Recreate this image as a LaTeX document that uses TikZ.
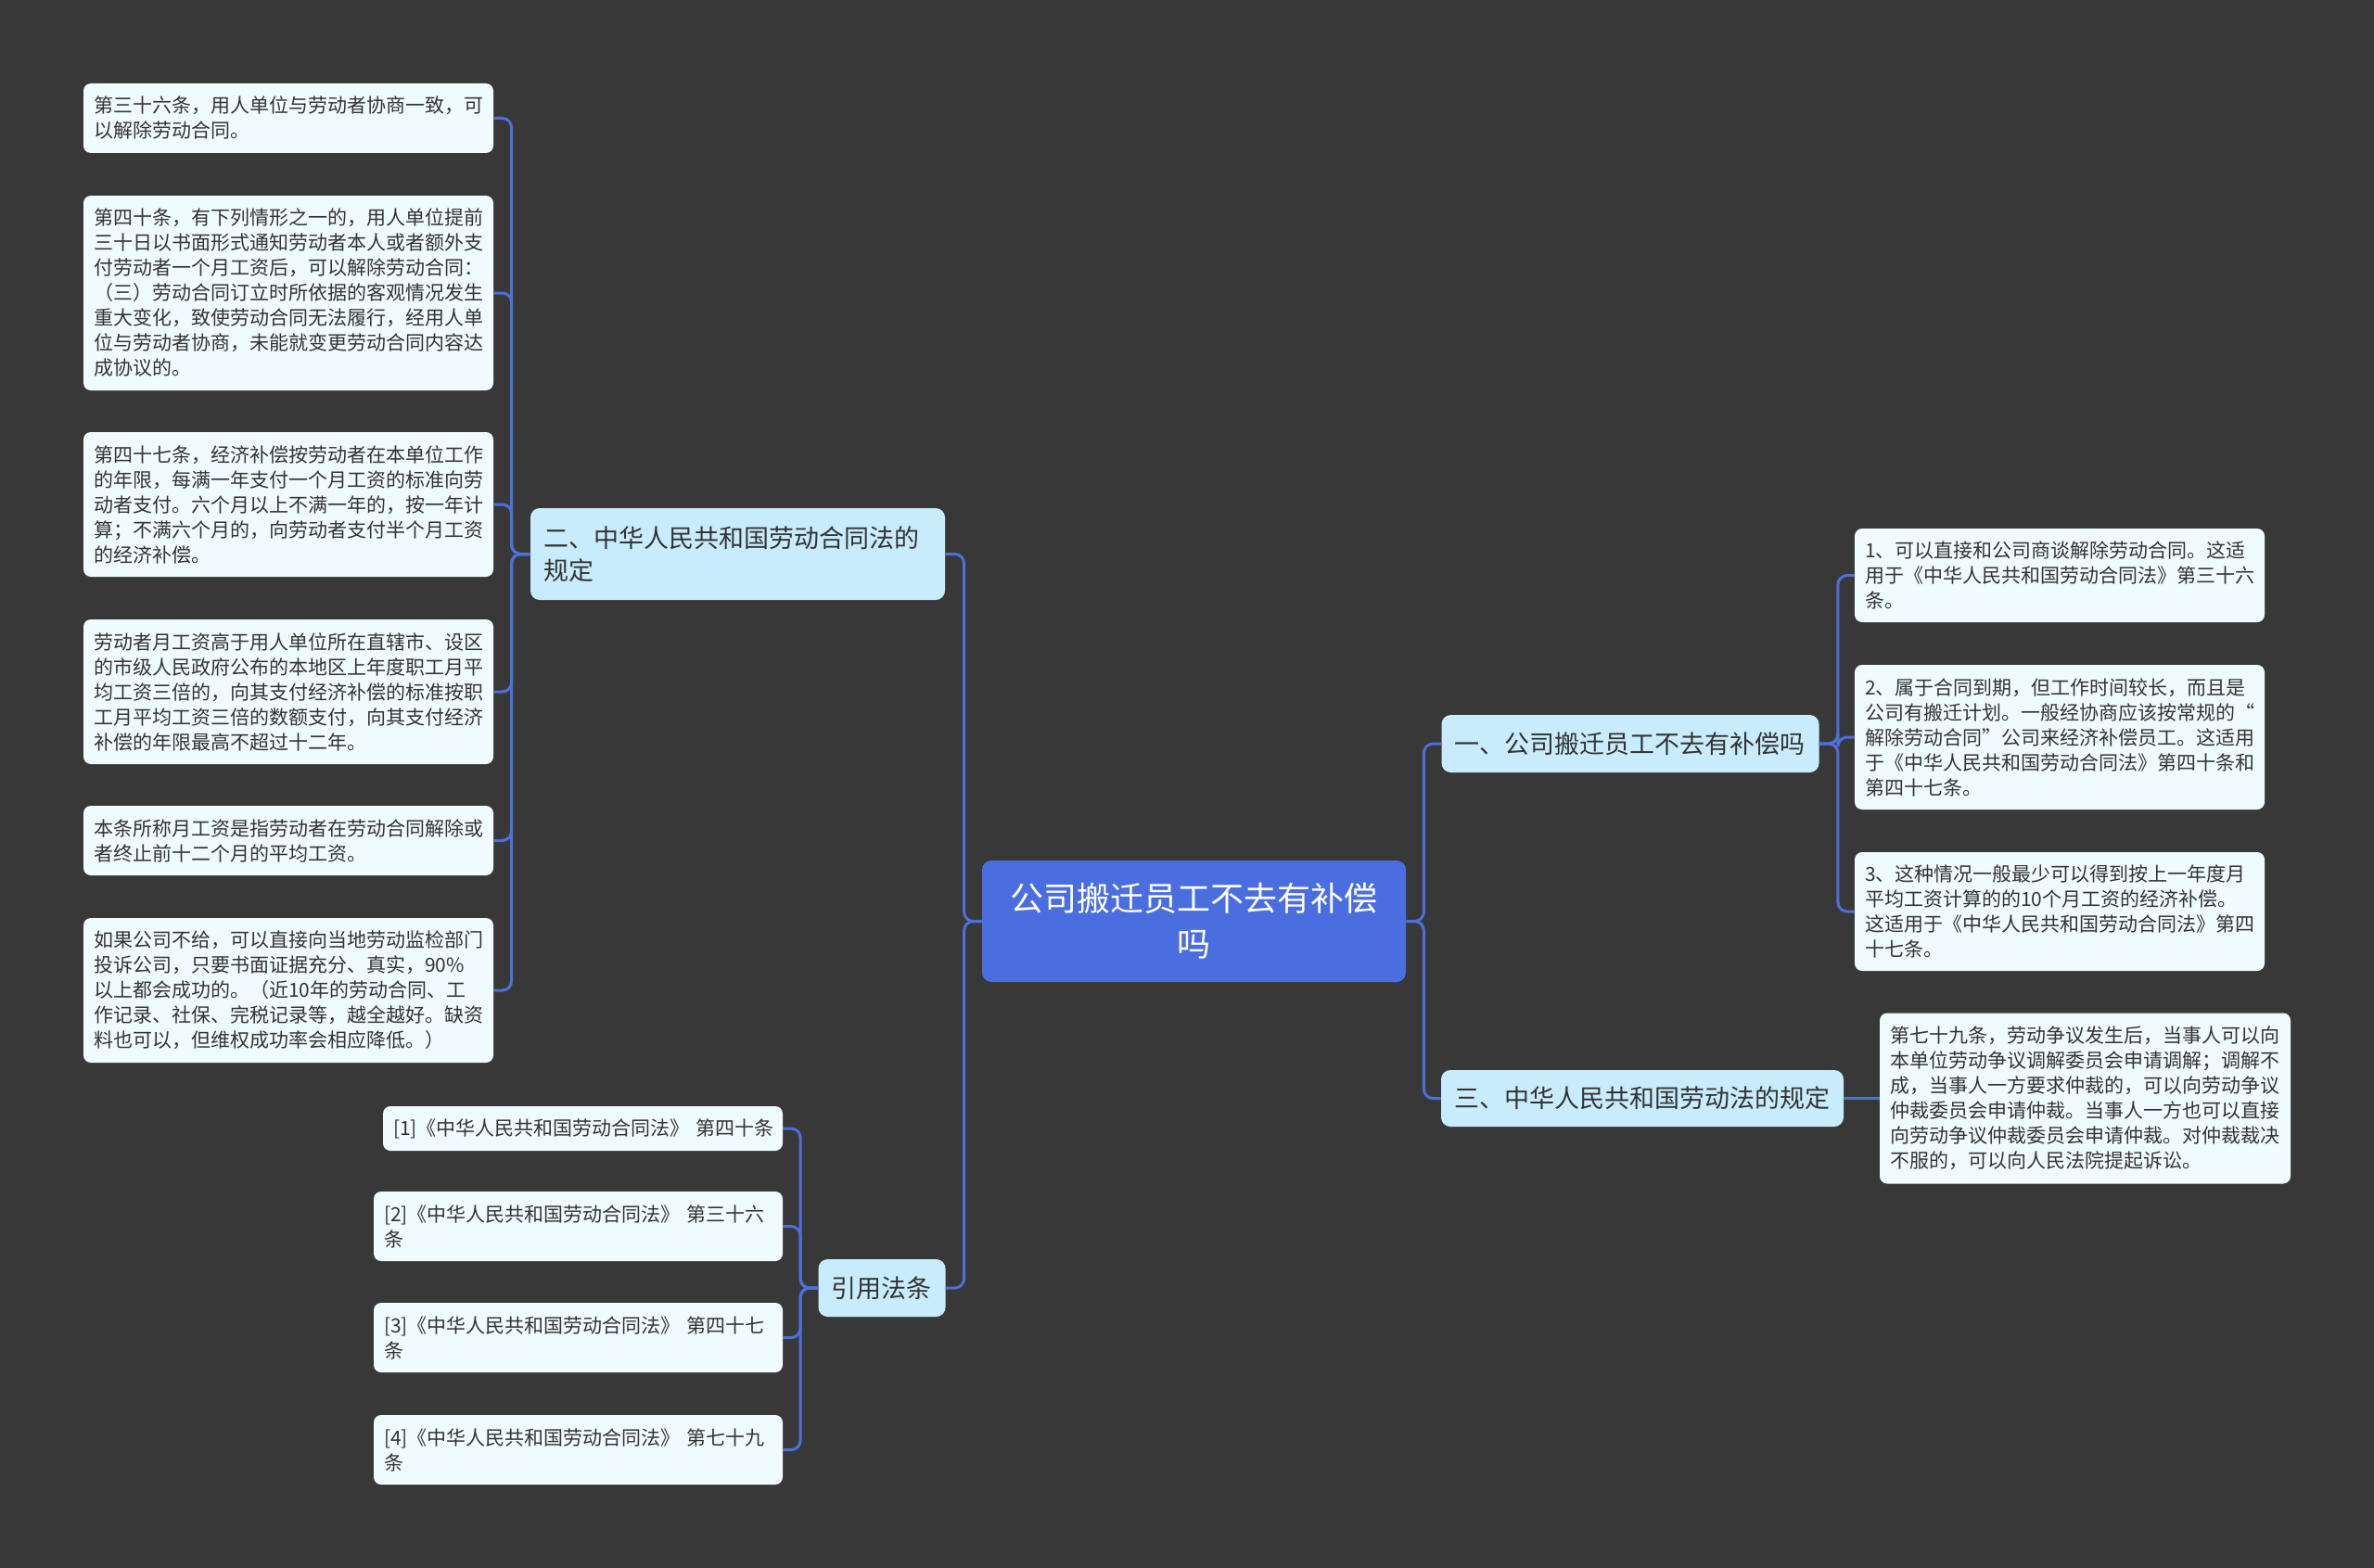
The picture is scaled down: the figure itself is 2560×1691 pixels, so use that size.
\documentclass[tikz,border=0pt]{standalone}
\usepackage{fontspec}
\setmainfont{Noto Sans CJK SC}
\definecolor{bgc}{HTML}{383838}
\definecolor{linkc}{HTML}{4F6FD9}
\definecolor{rootc}{HTML}{4A6EE0}
\definecolor{lvlc}{HTML}{C9ECFC}
\definecolor{leafc}{HTML}{F0FBFF}
\definecolor{txtc}{HTML}{333333}
\begin{document}
\begin{tikzpicture}[x=0.5pt,y=-0.5pt,
  leaf/.style={fill=leafc, rounded corners=4pt, text=txtc, align=left, inner xsep=5.5pt, inner ysep=0pt, font=\fontsize{10.5pt}{13.5pt}\selectfont},
  topic/.style={fill=lvlc, rounded corners=5pt, text=txtc, align=left, inner xsep=7pt, inner ysep=0pt, font=\fontsize{13.5pt}{17.5pt}\selectfont},
  rootbox/.style={fill=rootc, rounded corners=5pt, text=white, align=center, inner xsep=7pt, inner ysep=0pt, font=\fontsize{18pt}{24.5pt}\selectfont},
  link/.style={draw=linkc, line width=1.5pt, rounded corners=5pt}
]
\fill[bgc] (0,0) rectangle (2560,1691);
\useasboundingbox (0,0) rectangle (2560,1691);

% root
\node[rootbox, text width=214.5pt, minimum height=65.5pt] (root) at (1287.5,993.5) {公司搬迁员工不去有补偿\\吗};

% topics
\node[topic, text width=209.5pt, minimum height=49.5pt] (t2) at (795.5,597.5) {二、中华人民共和国劳动合同法的\\规定};
\node[topic, text width=189.5pt, minimum height=31pt] (t1) at (1758,802) {一、公司搬迁员工不去有补偿吗};
\node[topic, text width=203pt, minimum height=30.5pt] (t3) at (1771,1184.5) {三、中华人民共和国劳动法的规定};
\node[topic, text width=54.5pt, minimum height=31pt] (t4) at (951,1389) {引用法条};

% left leaves
\node[leaf, text width=210pt, minimum height=37.5pt] (L1) at (311,127.5) {第三十六条，用人单位与劳动者协商一致，可\\以解除劳动合同。};
\node[leaf, text width=210pt, minimum height=105pt] (L2) at (311,316) {第四十条，有下列情形之一的，用人单位提前\\三十日以书面形式通知劳动者本人或者额外支\\付劳动者一个月工资后，可以解除劳动合同：\\（三）劳动合同订立时所依据的客观情况发生\\重大变化，致使劳动合同无法履行，经用人单\\位与劳动者协商，未能就变更劳动合同内容达\\成协议的。};
\node[leaf, text width=210pt, minimum height=78pt] (L3) at (311,544) {第四十七条，经济补偿按劳动者在本单位工作\\的年限，每满一年支付一个月工资的标准向劳\\动者支付。六个月以上不满一年的，按一年计\\算；不满六个月的，向劳动者支付半个月工资\\的经济补偿。};
\node[leaf, text width=210pt, minimum height=78pt] (L4) at (311,746) {劳动者月工资高于用人单位所在直辖市、设区\\的市级人民政府公布的本地区上年度职工月平\\均工资三倍的，向其支付经济补偿的标准按职\\工月平均工资三倍的数额支付，向其支付经济\\补偿的年限最高不超过十二年。};
\node[leaf, text width=210pt, minimum height=37.5pt] (L5) at (311,906.5) {本条所称月工资是指劳动者在劳动合同解除或\\者终止前十二个月的平均工资。};
\node[leaf, text width=210pt, minimum height=78pt] (L6) at (311,1068) {如果公司不给，可以直接向当地劳动监检部门\\投诉公司，只要书面证据充分、真实，90\%\\以上都会成功的。（近10年的劳动合同、工\\作记录、社保、完税记录等，越全越好。缺资\\料也可以，但维权成功率会相应降低。）};

% right leaves
\node[leaf, text width=210pt, minimum height=50.5pt] (A) at (2221,620.5) {1、可以直接和公司商谈解除劳动合同。这适\\用于《中华人民共和国劳动合同法》第三十六\\条。};
\node[leaf, text width=210pt, minimum height=78pt] (B) at (2221,795) {2、属于合同到期，但工作时间较长，而且是\\公司有搬迁计划。一般经协商应该按常规的“\\解除劳动合同”公司来经济补偿员工。这适用\\于《中华人民共和国劳动合同法》第四十条和\\第四十七条。};
\node[leaf, text width=210pt, minimum height=64pt] (C) at (2221,983) {3、这种情况一般最少可以得到按上一年度月\\平均工资计算的的10个月工资的经济补偿。\\这适用于《中华人民共和国劳动合同法》第四\\十七条。};
\node[leaf, text width=210.5pt, minimum height=92pt] (D) at (2248.5,1184.5) {第七十九条，劳动争议发生后，当事人可以向\\本单位劳动争议调解委员会申请调解；调解不\\成，当事人一方要求仲裁的，可以向劳动争议\\仲裁委员会申请仲裁。当事人一方也可以直接\\向劳动争议仲裁委员会申请仲裁。对仲裁裁决\\不服的，可以向人民法院提起诉讼。};

% references
\node[leaf, text width=204.5pt, minimum height=24pt] (R1) at (628.5,1217) {\mbox{[1]《中华人民共和国劳动合同法》 第四十条}};
\node[leaf, text width=209.5pt, minimum height=37.5pt] (R2) at (623.5,1322.5) {[2]《中华人民共和国劳动合同法》 第三十六\\条};
\node[leaf, text width=209.5pt, minimum height=37.5pt] (R3) at (623.5,1442.5) {[3]《中华人民共和国劳动合同法》 第四十七\\条};
\node[leaf, text width=209.5pt, minimum height=37.5pt] (R4) at (623.5,1563.5) {[4]《中华人民共和国劳动合同法》 第七十九\\条};

% connectors
\foreach \n in {L1,L2,L3,L4,L5,L6}
  \draw[link] (t2.west) -- ++(-10pt,0) |- (\n.east);
\draw[link] (root.west) -- ++(-9.5pt,0) |- (t2.east);
\draw[link] (root.west) -- ++(-9.5pt,0) |- (t4.east);
\draw[link] (root.east) -- ++(9.5pt,0) |- (t1.west);
\draw[link] (root.east) -- ++(9.5pt,0) |- (t3.west);
\foreach \n in {A,B,C}
  \draw[link] (t1.east) -- ++(10pt,0) |- (\n.west);
\draw[link] (t3.east) -- (D.west);
\foreach \n in {R1,R2,R3,R4}
  \draw[link] (t4.west) -- ++(-9.5pt,0) |- (\n.east);
\end{tikzpicture}
\end{document}
